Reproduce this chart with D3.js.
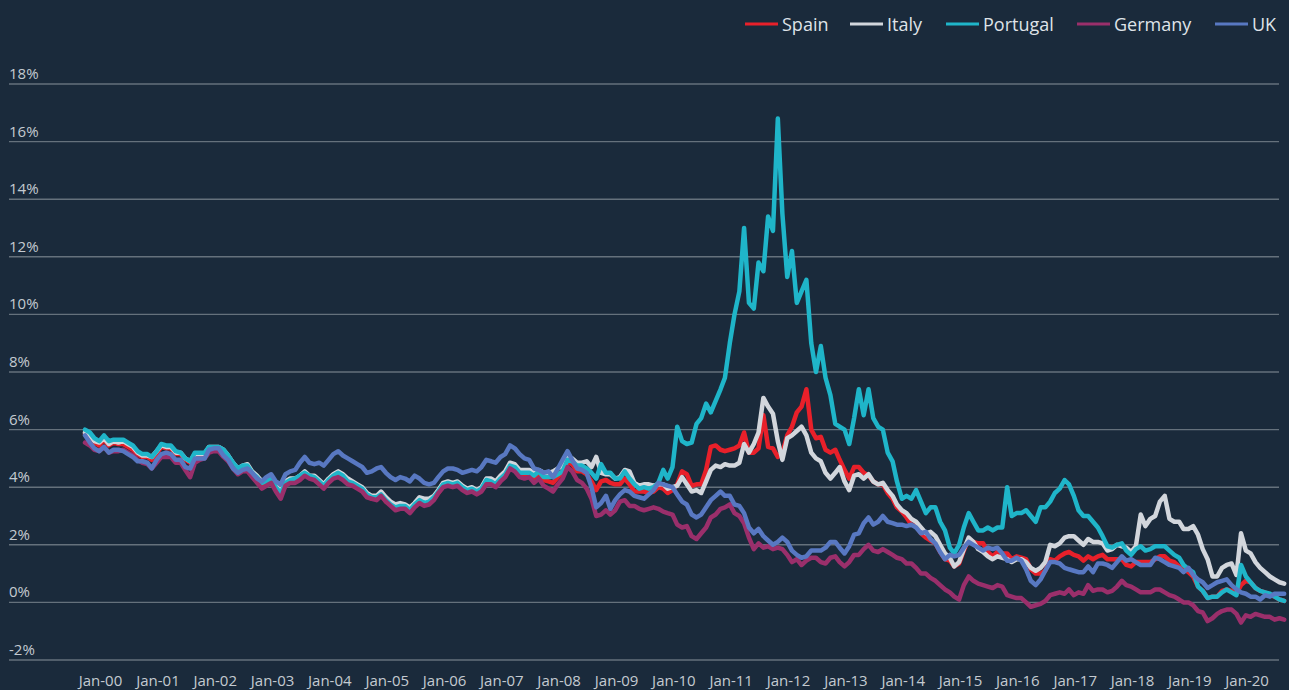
<!DOCTYPE html>
<html>
<head>
<meta charset="utf-8">
<script src="https://cdn.jsdelivr.net/npm/d3@7"></script>
<style>
  html, body { margin: 0; padding: 0; background: #1a2a3b; }
  svg { display: block; }
  text { font-family: "Open Sans", "Noto Sans", sans-serif; }
</style>
</head>
<body>
<svg id="chart" width="1289" height="690"></svg>
<script>
// 10-year government bond yields (%), monthly, Jan 2000 - Dec 2020
const seriesNames = ["Spain", "Italy", "Portugal", "Germany", "UK"];
const seriesColors = ["#e8202a", "#d2d6dc", "#1fb5c9", "#9a2f6b", "#5878c2"];
const yTicks = [-2, 0, 2, 4, 6, 8, 10, 12, 14, 16, 18];

const spain = [
  5.85,5.75,5.55,5.45,5.65,5.45,5.55,5.50,5.50,5.40,5.30,5.15,
  5.05,5.05,4.95,5.15,5.40,5.35,5.35,5.15,5.15,4.95,4.85,5.10,
  5.10,5.10,5.35,5.35,5.35,5.20,5.05,4.80,4.60,4.70,4.70,4.45,
  4.30,4.10,4.15,4.25,3.95,3.70,4.10,4.20,4.25,4.30,4.45,4.35,
  4.30,4.15,4.00,4.20,4.35,4.40,4.30,4.15,4.10,4.00,3.90,3.70,
  3.60,3.60,3.75,3.50,3.40,3.25,3.30,3.30,3.15,3.35,3.50,3.40,
  3.45,3.60,3.80,4.05,4.10,4.05,4.10,3.95,3.85,3.90,3.80,3.90,
  4.15,4.15,4.05,4.25,4.40,4.70,4.65,4.45,4.40,4.45,4.30,4.45,
  4.25,4.20,4.15,4.35,4.50,4.85,4.80,4.55,4.55,4.45,4.20,3.90,
  4.20,4.25,4.15,4.10,4.10,4.30,4.10,3.85,3.85,3.85,3.80,3.85,
  4.00,3.95,3.80,3.90,4.10,4.55,4.45,4.05,4.10,4.10,4.60,5.40,
  5.45,5.30,5.25,5.30,5.35,5.45,5.90,5.20,5.20,5.35,6.50,5.40,
  5.35,5.05,5.20,5.80,6.10,6.60,6.80,7.40,6.00,5.70,5.75,5.30,
  5.20,5.30,4.95,4.60,4.30,4.70,4.70,4.50,4.40,4.20,4.10,4.10,
  3.80,3.60,3.30,3.15,2.95,2.70,2.65,2.40,2.25,2.15,2.05,1.75,
  1.50,1.45,1.25,1.35,1.80,2.20,2.10,2.05,2.05,1.75,1.60,1.75,
  1.70,1.70,1.50,1.60,1.55,1.50,1.15,1.00,1.00,1.10,1.50,1.45,
  1.60,1.70,1.75,1.65,1.60,1.45,1.60,1.50,1.60,1.65,1.50,1.50,
  1.50,1.50,1.30,1.25,1.40,1.40,1.40,1.40,1.50,1.60,1.60,1.45,
  1.40,1.25,1.15,1.05,0.90,0.55,0.40,0.15,0.20,0.20,0.40,0.45,
  0.40,0.30,0.60,0.75,0.70,0.50,0.40,0.35,0.25,0.20,0.10,0.05
];

const italy = [
  5.90,5.80,5.60,5.55,5.70,5.50,5.60,5.55,5.60,5.50,5.40,5.20,
  5.10,5.10,5.05,5.25,5.45,5.40,5.40,5.20,5.20,5.00,4.90,5.15,
  5.15,5.15,5.40,5.40,5.40,5.30,5.10,4.85,4.65,4.75,4.80,4.55,
  4.40,4.20,4.20,4.30,4.05,3.85,4.20,4.30,4.30,4.40,4.55,4.40,
  4.40,4.25,4.10,4.30,4.45,4.55,4.45,4.30,4.20,4.10,4.00,3.80,
  3.70,3.70,3.85,3.65,3.50,3.40,3.45,3.40,3.30,3.45,3.65,3.60,
  3.60,3.70,3.90,4.15,4.20,4.15,4.20,4.05,3.95,4.00,3.90,4.00,
  4.30,4.30,4.20,4.40,4.55,4.85,4.80,4.60,4.60,4.60,4.50,4.60,
  4.50,4.50,4.55,4.65,4.75,5.05,5.00,4.85,4.85,4.90,4.70,5.05,
  4.50,4.45,4.45,4.30,4.35,4.60,4.55,4.15,4.05,4.10,4.10,4.05,
  4.10,4.10,3.95,4.00,4.05,4.35,4.10,3.85,3.90,3.80,4.20,4.60,
  4.75,4.70,4.80,4.75,4.75,4.85,5.50,5.20,5.50,5.90,7.10,6.80,
  6.55,5.60,4.95,5.70,5.80,5.95,6.10,5.80,5.20,5.00,4.90,4.50,
  4.30,4.50,4.70,4.20,3.90,4.40,4.45,4.30,4.45,4.20,4.10,4.15,
  3.90,3.70,3.40,3.20,3.10,2.90,2.80,2.60,2.40,2.45,2.30,2.00,
  1.70,1.55,1.25,1.40,1.85,2.25,2.10,1.85,1.75,1.60,1.50,1.60,
  1.55,1.50,1.40,1.50,1.50,1.40,1.20,1.10,1.20,1.40,2.00,1.95,
  2.05,2.25,2.30,2.30,2.15,2.00,2.20,2.10,2.10,2.05,1.80,1.85,
  2.00,1.95,1.90,1.75,1.95,3.05,2.65,2.90,3.00,3.50,3.70,2.90,
  2.80,2.80,2.55,2.55,2.65,2.35,1.85,1.50,0.90,0.90,1.20,1.30,
  1.35,0.95,2.40,1.80,1.70,1.40,1.20,1.05,0.90,0.80,0.70,0.65
];

const portugal = [
  6.00,5.90,5.70,5.60,5.80,5.60,5.65,5.65,5.65,5.55,5.45,5.25,
  5.15,5.15,5.05,5.25,5.50,5.45,5.45,5.25,5.20,5.00,4.90,5.20,
  5.20,5.20,5.40,5.40,5.40,5.30,5.10,4.85,4.65,4.75,4.75,4.50,
  4.35,4.15,4.20,4.30,4.00,3.80,4.15,4.25,4.30,4.40,4.50,4.40,
  4.35,4.20,4.05,4.25,4.40,4.50,4.40,4.20,4.15,4.05,3.95,3.75,
  3.65,3.65,3.75,3.55,3.40,3.30,3.35,3.35,3.20,3.40,3.55,3.45,
  3.50,3.65,3.85,4.10,4.15,4.10,4.15,4.00,3.90,3.95,3.85,3.95,
  4.25,4.20,4.10,4.30,4.45,4.75,4.70,4.50,4.50,4.50,4.40,4.55,
  4.35,4.35,4.35,4.45,4.55,4.95,4.90,4.75,4.75,4.65,4.50,4.30,
  4.80,4.50,4.50,4.30,4.30,4.55,4.30,4.10,3.95,4.00,3.95,4.00,
  4.15,4.60,4.30,4.70,6.10,5.60,5.50,5.55,6.20,6.40,6.90,6.60,
  7.00,7.40,7.80,9.00,10.00,10.80,13.00,10.40,10.20,11.80,11.50,13.40,
  12.90,16.80,13.50,11.30,12.20,10.40,10.80,11.20,9.00,8.00,8.90,7.80,
  7.20,6.20,6.10,6.00,5.50,6.40,7.40,6.50,7.40,6.40,6.10,6.00,
  5.20,4.90,4.20,3.60,3.70,3.60,3.90,3.50,3.10,3.30,3.30,2.80,
  2.50,1.90,1.70,2.00,2.60,3.10,2.80,2.50,2.50,2.60,2.50,2.60,
  2.60,4.00,3.00,3.10,3.10,3.20,3.00,2.80,3.30,3.30,3.50,3.80,
  3.95,4.25,4.10,3.70,3.20,3.00,3.00,2.80,2.60,2.30,1.95,1.90,
  2.00,2.05,1.80,1.65,1.85,1.95,1.80,1.85,1.95,1.95,1.95,1.80,
  1.65,1.55,1.30,1.15,1.05,0.55,0.40,0.15,0.20,0.20,0.35,0.45,
  0.35,0.25,1.30,0.90,0.70,0.50,0.40,0.35,0.30,0.20,0.10,0.05
];

const germany = [
  5.55,5.45,5.30,5.25,5.40,5.20,5.25,5.25,5.30,5.20,5.10,4.95,
  4.85,4.80,4.65,4.85,5.05,5.05,5.05,4.85,4.85,4.60,4.35,4.85,
  4.95,5.00,5.20,5.25,5.25,5.05,4.90,4.65,4.45,4.55,4.55,4.35,
  4.15,3.95,4.05,4.15,3.85,3.60,4.05,4.15,4.15,4.25,4.40,4.30,
  4.25,4.10,3.95,4.15,4.30,4.35,4.25,4.10,4.05,3.95,3.85,3.65,
  3.60,3.55,3.70,3.50,3.35,3.20,3.25,3.25,3.10,3.30,3.45,3.35,
  3.40,3.55,3.80,4.00,4.05,4.00,4.05,3.90,3.80,3.85,3.75,3.85,
  4.10,4.10,4.00,4.20,4.35,4.65,4.55,4.35,4.30,4.35,4.15,4.30,
  4.05,3.95,3.85,4.10,4.30,4.70,4.55,4.25,4.15,3.95,3.60,3.00,
  3.05,3.20,3.05,3.20,3.50,3.55,3.35,3.35,3.25,3.20,3.25,3.30,
  3.25,3.15,3.10,3.05,2.70,2.60,2.65,2.30,2.20,2.40,2.60,2.95,
  3.05,3.25,3.30,3.40,3.10,3.00,2.75,2.25,1.85,2.05,1.90,1.95,
  1.85,1.90,1.85,1.65,1.40,1.50,1.30,1.45,1.55,1.55,1.40,1.35,
  1.55,1.60,1.40,1.25,1.40,1.65,1.65,1.85,2.00,1.80,1.75,1.85,
  1.75,1.65,1.55,1.50,1.35,1.35,1.20,1.00,1.00,0.85,0.75,0.60,
  0.45,0.35,0.20,0.10,0.60,0.90,0.75,0.65,0.60,0.55,0.50,0.60,
  0.55,0.25,0.20,0.15,0.15,0.00,-0.15,-0.10,-0.05,0.05,0.25,0.30,
  0.35,0.30,0.45,0.25,0.35,0.30,0.60,0.40,0.45,0.45,0.35,0.40,
  0.55,0.75,0.60,0.55,0.45,0.35,0.35,0.35,0.45,0.45,0.35,0.25,
  0.20,0.10,0.00,0.00,-0.10,-0.30,-0.35,-0.65,-0.55,-0.40,-0.30,-0.25,
  -0.25,-0.40,-0.70,-0.45,-0.50,-0.40,-0.45,-0.50,-0.50,-0.60,-0.55,-0.60
];

const uk = [
  5.80,5.55,5.35,5.25,5.40,5.20,5.30,5.30,5.25,5.15,5.05,4.90,
  4.90,4.85,4.65,4.95,5.15,5.20,5.15,4.95,4.95,4.70,4.65,5.00,
  5.00,5.00,5.30,5.35,5.35,5.10,4.95,4.65,4.50,4.60,4.65,4.50,
  4.30,4.20,4.35,4.45,4.20,4.10,4.45,4.55,4.60,4.85,5.05,4.85,
  4.80,4.85,4.75,4.95,5.15,5.25,5.10,5.00,4.90,4.80,4.70,4.50,
  4.55,4.65,4.70,4.50,4.35,4.25,4.35,4.30,4.20,4.40,4.30,4.15,
  4.10,4.15,4.35,4.55,4.65,4.65,4.60,4.50,4.55,4.60,4.55,4.70,
  4.95,4.90,4.85,5.05,5.15,5.45,5.35,5.15,5.00,4.95,4.65,4.60,
  4.50,4.55,4.35,4.65,4.95,5.25,4.95,4.65,4.60,4.50,4.00,3.30,
  3.45,3.70,3.25,3.55,3.75,3.90,3.85,3.70,3.65,3.60,3.75,3.90,
  4.15,4.10,4.05,4.00,3.75,3.50,3.40,3.05,2.95,3.05,3.30,3.55,
  3.70,3.85,3.70,3.70,3.40,3.35,3.10,2.60,2.40,2.55,2.30,2.15,
  2.00,2.10,2.25,2.10,1.80,1.65,1.55,1.60,1.80,1.80,1.80,1.90,
  2.10,2.10,1.90,1.70,1.95,2.35,2.40,2.75,2.95,2.70,2.80,3.00,
  2.80,2.75,2.70,2.70,2.65,2.70,2.60,2.40,2.45,2.20,2.05,1.75,
  1.50,1.65,1.60,1.65,1.90,2.10,2.00,1.90,1.80,1.90,1.85,1.90,
  1.70,1.45,1.45,1.55,1.45,1.15,0.75,0.60,0.80,1.10,1.40,1.40,
  1.35,1.20,1.15,1.10,1.05,1.05,1.25,1.05,1.35,1.35,1.30,1.20,
  1.40,1.60,1.45,1.50,1.40,1.30,1.30,1.30,1.55,1.50,1.40,1.30,
  1.25,1.20,1.05,1.20,0.95,0.80,0.70,0.50,0.60,0.70,0.75,0.80,
  0.60,0.45,0.35,0.30,0.20,0.20,0.10,0.25,0.20,0.30,0.30,0.30
];

const seriesValues = [spain, italy, portugal, germany, uk];

// one observation per month, starting January 2000
const months = d3.timeMonth.range(new Date(2000, 0, 1), new Date(2021, 0, 1));
const years = d3.timeYear.range(new Date(2000, 0, 1), new Date(2021, 0, 1));

const W = 1289, H = 690;
const svg = d3.select("#chart");
svg.append("rect").attr("width", W).attr("height", H).attr("fill", "#1a2a3b");

const x = d3.scaleTime()
  .domain([new Date(2000, 0, 1), new Date(2020, 0, 1)])
  .range([85, 1231.6]);
const y = d3.scaleLinear().domain([-2, 18]).range([660, 84]);

const gridLeft = 9, gridRight = 1279;

// horizontal gridlines with labels sitting above them
const grid = svg.append("g");
grid.selectAll("line").data(yTicks).join("line")
  .attr("x1", gridLeft).attr("x2", gridRight)
  .attr("y1", d => y(d)).attr("y2", d => y(d))
  .attr("stroke", "#65717c").attr("stroke-width", 1.4);
grid.selectAll("text").data(yTicks).join("text")
  .attr("x", gridLeft)
  .attr("y", d => y(d) - 5)
  .attr("fill", "#c4cad1")
  .attr("font-size", 15)
  .text(d => d + "%");

// x axis labels, one per year
const xAxis = d3.axisBottom(x)
  .tickValues(years)
  .tickFormat(d3.timeFormat("Jan-%y"))
  .tickSize(0);
const gx = svg.append("g").attr("transform", "translate(0,672)").call(xAxis);
gx.select(".domain").remove();
gx.selectAll("text")
  .attr("dx", 15)
  .attr("fill", "#c4cad1")
  .attr("font-size", 15)
  .attr("font-family", "\"Open Sans\", \"Noto Sans\", sans-serif");

// series lines
const line = d3.line()
  .x((d, i) => x(months[i]))
  .y(d => y(d));

svg.append("g").selectAll("path")
  .data(seriesValues)
  .join("path")
  .attr("d", d => line(d))
  .attr("fill", "none")
  .attr("stroke", (d, i) => seriesColors[i])
  .attr("stroke-width", 4.5)
  .attr("stroke-linejoin", "round")
  .attr("stroke-linecap", "round");

// legend, top right
const legendX = [745, 850, 946, 1077, 1215];
const legend = svg.append("g");
seriesNames.forEach((name, i) => {
  const g = legend.append("g").attr("transform", `translate(${legendX[i]},24)`);
  g.append("line").attr("x1", 0).attr("x2", 33).attr("y1", 0).attr("y2", 0)
    .attr("stroke", seriesColors[i]).attr("stroke-width", 3);
  g.append("text").attr("x", 37).attr("y", 6.5)
    .attr("fill", "#dfe3e8").attr("font-size", 18)
    .text(name);
});
</script>
</body>
</html>
